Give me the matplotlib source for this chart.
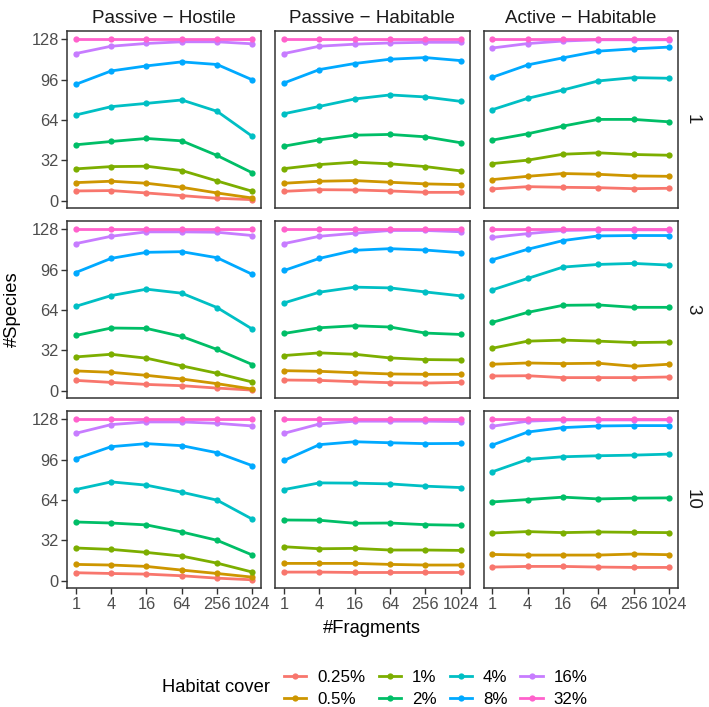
import matplotlib
matplotlib.use('Agg')
import matplotlib.pyplot as plt
from matplotlib.lines import Line2D

plt.rcParams['font.family'] = ['Liberation Sans', 'DejaVu Sans']

fragments = [1, 4, 16, 64, 256, 1024]
covers = ['0.25%', '0.5%', '1%', '2%', '4%', '8%', '16%', '32%']
colors = ['#F8766D', '#CD9600', '#7CAE00', '#00BE67', '#00BFC4', '#00A9FF', '#C77CFF', '#FF61CC']
col_titles = ['Passive \u2212 Hostile', 'Passive \u2212 Habitable', 'Active \u2212 Habitable']
row_titles = ['1', '3', '10']

# species per habitat cover, one dict per panel (row, col)
ph_1 = {
    '0.25%': [7.7, 8.0, 6.1, 4.0, 1.9, 0.8],
    '0.5%': [14.3, 15.4, 13.8, 10.6, 6.1, 2.1],
    '1%': [25.2, 27.0, 27.3, 23.9, 15.6, 7.4],
    '2%': [44.3, 46.9, 49.3, 47.4, 35.8, 22.0],
    '4%': [67.9, 74.5, 77.1, 79.8, 70.8, 50.9],
    '8%': [92.2, 102.8, 106.8, 110.0, 107.9, 95.7],
    '16%': [116.6, 122.4, 124.6, 125.9, 125.9, 124.3],
    '32%': [128, 128, 128, 128, 128, 128],
}
pb_1 = {
    '0.25%': [7.4, 8.7, 8.5, 7.7, 6.6, 6.6],
    '0.5%': [13.8, 15.4, 15.9, 14.6, 13.3, 12.7],
    '1%': [25.4, 28.6, 30.5, 29.2, 27.0, 23.6],
    '2%': [43.2, 48.2, 51.9, 52.5, 50.6, 45.9],
    '4%': [68.9, 74.7, 80.6, 83.8, 82.2, 78.7],
    '8%': [93.3, 103.9, 108.7, 112.1, 113.4, 111.0],
    '16%': [116.6, 122.4, 124.0, 125.0, 125.5, 125.5],
    '32%': [128, 128, 128, 128, 128, 128],
}
ab_1 = {
    '0.25%': [9.3, 11.1, 10.6, 10.3, 9.5, 9.8],
    '0.5%': [16.7, 19.3, 21.5, 20.9, 19.6, 19.3],
    '1%': [29.4, 32.1, 36.8, 37.9, 36.6, 36.0],
    '2%': [48.0, 53.0, 59.1, 64.4, 64.4, 62.5],
    '4%': [72.1, 81.1, 87.7, 94.9, 97.5, 97.0],
    '8%': [97.8, 107.6, 113.2, 118.5, 120.3, 121.7],
    '16%': [121.0, 124.5, 126.5, 127.5, 127.5, 127.5],
    '32%': [128, 128, 128, 128, 128, 128],
}
ph_3 = {
    '0.25%': [8.2, 6.6, 5.0, 4.0, 2.1, 0.5],
    '0.5%': [15.7, 14.6, 12.2, 9.3, 5.6, 1.3],
    '1%': [26.8, 28.9, 25.8, 19.7, 13.8, 6.9],
    '2%': [43.8, 49.7, 49.4, 43.0, 32.7, 20.7],
    '4%': [66.9, 75.4, 80.5, 77.3, 65.9, 48.8],
    '8%': [93.7, 104.9, 109.7, 110.2, 105.4, 92.2],
    '16%': [116.6, 122.4, 125.9, 125.9, 125.6, 123.0],
    '32%': [128, 128, 128, 128, 128, 128],
}
pb_3 = {
    '0.25%': [8.5, 8.2, 7.2, 6.4, 6.1, 6.6],
    '0.5%': [15.9, 15.4, 14.3, 13.3, 13.0, 13.0],
    '1%': [27.9, 30.0, 28.9, 26.0, 24.7, 24.4],
    '2%': [45.4, 49.9, 51.5, 50.5, 45.7, 44.6],
    '4%': [69.6, 78.1, 82.1, 81.5, 78.3, 75.2],
    '8%': [95.3, 104.9, 111.3, 112.6, 111.5, 109.4],
    '16%': [116.6, 122.4, 124.8, 127.0, 127.0, 126.0],
    '32%': [128, 128, 128, 128, 128, 128],
}
ab_3 = {
    '0.25%': [11.7, 11.9, 10.4, 10.4, 10.4, 10.9],
    '0.5%': [21.0, 22.0, 21.5, 21.8, 19.4, 21.0],
    '1%': [33.7, 39.3, 40.1, 39.3, 38.2, 38.5],
    '2%': [54.2, 62.1, 67.7, 68.0, 66.1, 66.1],
    '4%': [79.9, 89.0, 98.0, 100.1, 100.9, 99.6],
    '8%': [103.8, 112.1, 119.0, 122.7, 123.0, 123.0],
    '16%': [121.5, 124.5, 127.0, 127.5, 127.5, 127.5],
    '32%': [128, 128, 128, 128, 128, 128],
}
ph_10 = {
    '0.25%': [6.4, 5.8, 5.3, 4.0, 2.1, 0.8],
    '0.5%': [13.0, 12.5, 11.4, 8.5, 5.8, 2.9],
    '1%': [26.0, 24.9, 22.5, 19.6, 14.0, 6.9],
    '2%': [46.6, 45.8, 44.3, 38.7, 32.1, 20.4],
    '4%': [72.3, 78.4, 75.8, 70.2, 63.9, 48.8],
    '8%': [96.7, 106.3, 108.7, 107.1, 101.5, 91.2],
    '16%': [116.9, 123.8, 125.9, 125.9, 124.8, 122.7],
    '32%': [128, 128, 128, 128, 128, 128],
}
pb_10 = {
    '0.25%': [6.9, 6.9, 6.6, 6.6, 6.6, 6.6],
    '0.5%': [13.8, 13.8, 13.8, 13.0, 12.5, 12.5],
    '1%': [27.0, 25.4, 25.7, 24.4, 24.4, 24.1],
    '2%': [48.2, 48.0, 45.6, 45.8, 44.5, 44.0],
    '4%': [72.3, 77.6, 77.4, 76.8, 75.0, 73.9],
    '8%': [95.4, 107.9, 110.2, 109.4, 108.7, 108.9],
    '16%': [116.9, 124.3, 126.5, 126.5, 126.5, 126.2],
    '32%': [128, 128, 128, 128, 128, 128],
}
ab_10 = {
    '0.25%': [10.9, 11.4, 11.4, 10.9, 10.6, 10.6],
    '0.5%': [20.9, 20.4, 20.4, 20.4, 21.2, 20.7],
    '1%': [37.9, 39.0, 38.2, 38.7, 38.4, 38.2],
    '2%': [62.5, 64.4, 66.3, 64.9, 65.5, 65.7],
    '4%': [86.4, 96.2, 98.3, 99.1, 99.6, 100.4],
    '8%': [107.6, 117.9, 121.4, 122.7, 123.0, 123.0],
    '16%': [122.5, 126.5, 127.5, 127.5, 127.5, 127.5],
    '32%': [128, 128, 128, 128, 128, 128],
}

panels = [[ph_1, pb_1, ab_1], [ph_3, pb_3, ab_3], [ph_10, pb_10, ab_10]]

fig, axes = plt.subplots(3, 3, figsize=(7.09, 7.07), dpi=100, sharex=True, sharey=True)
fig.subplots_adjust(left=0.0945, right=0.956, top=0.956, bottom=0.168, wspace=0.072, hspace=0.074)

tick_col = '#4D4D4D'
for r in range(3):
    for c in range(3):
        ax = axes[r, c]
        data = panels[r][c]
        for cov, col in zip(covers, colors):
            ax.plot(fragments, data[cov], color=col, lw=2.0, marker='o', ms=4.5, mew=0)
        ax.set_xscale('log', base=2)
        ax.set_xticks(fragments)
        ax.set_xticklabels([str(f) for f in fragments])
        ax.minorticks_off()
        ax.set_yticks([0, 32, 64, 96, 128])
        for s in ax.spines.values():
            s.set_color('#333333')
            s.set_linewidth(1.1)
        ax.tick_params(length=4, width=1.0, color='#333333', labelcolor=tick_col,
                       labelsize=11.8, pad=2)
        if c != 0:
            ax.tick_params(axis='y', left=False)
        if r != 2:
            ax.tick_params(axis='x', bottom=False)
        if r == 0:
            ax.set_title(col_titles[c], fontsize=13.5, color='#1A1A1A', pad=6)
        if c == 2:
            ax.text(1.075, 0.5, row_titles[r], transform=ax.transAxes, rotation=270,
                    ha='center', va='center', fontsize=13.5, color='#1A1A1A')

fig.text(0.018, 0.562, '#Species', rotation=90, ha='center', va='center', fontsize=13.2)
fig.text(0.525, 0.111, '#Fragments', ha='center', va='center', fontsize=13.2)

handles = [Line2D([0], [0], color=col, lw=2.0, marker='o', ms=4.5, mew=0) for col in colors]
fig.legend(handles, covers, ncol=4, loc='center left', bbox_to_anchor=(0.379, 0.0265),
           frameon=False, fontsize=12.2, handlelength=1.32, handletextpad=0.64,
           columnspacing=0.78, labelspacing=0.4)
fig.text(0.2285, 0.0275, 'Habitat cover', ha='left', va='center', fontsize=13.2)

fig.savefig('out.png', dpi=100)
